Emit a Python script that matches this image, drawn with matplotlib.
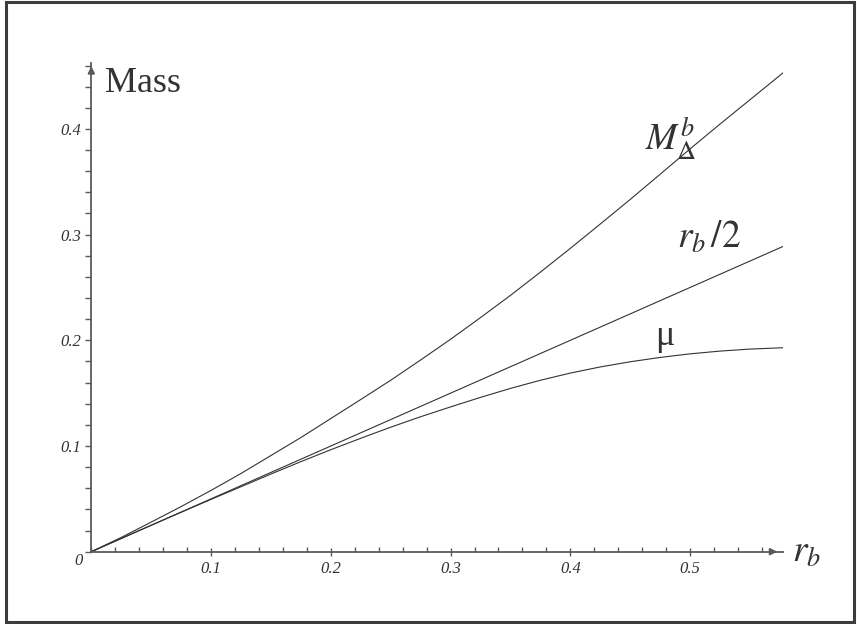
import matplotlib
matplotlib.use("Agg")
import matplotlib.pyplot as plt
from matplotlib.patches import Rectangle
from matplotlib.ticker import MultipleLocator

plt.rcParams['font.family'] = ['Liberation Serif', 'DejaVu Serif']
plt.rcParams['mathtext.fontset'] = 'stix'

# values
rb = [0, 0.025, 0.05, 0.075, 0.1, 0.125, 0.15, 0.175, 0.2, 0.225, 0.25,
      0.275, 0.3, 0.325, 0.35, 0.375, 0.4, 0.425, 0.45, 0.475, 0.5, 0.525,
      0.55, 0.578]
mass_delta = [0, 0.0135, 0.028, 0.0427, 0.058, 0.074, 0.091, 0.108, 0.126,
              0.144, 0.1622, 0.1814, 0.201, 0.2215, 0.2425, 0.2645, 0.287,
              0.31, 0.3333, 0.3571, 0.3811, 0.4046, 0.4276, 0.4534]
mu = [0, 0.0125, 0.025, 0.0373, 0.0495, 0.0615, 0.0735, 0.0852, 0.0965,
      0.1073, 0.1178, 0.1277, 0.137, 0.146, 0.1545, 0.1622, 0.169, 0.1748,
      0.1797, 0.1838, 0.1872, 0.1898, 0.1917, 0.193]
half_rb = [r / 2 for r in rb]

xticks = [0.1, 0.2, 0.3, 0.4, 0.5]
yticks = [0.1, 0.2, 0.3, 0.4]

ink = '#333333'
axis_grey = '#5a5a5a'

W, H = 857, 624
fig = plt.figure(figsize=(W / 100, H / 100), dpi=100)
left, right = 91.3, 783.0
bottom, top = 551.7, 63.4
ax = fig.add_axes([left / W, 1 - bottom / H, (right - left) / W, (bottom - top) / H])
ax.set_xlim(0, 0.5776)
ax.set_ylim(0, 0.462)

ax.plot(rb, mass_delta, color=ink, lw=0.8)
ax.plot(rb, half_rb, color=ink, lw=0.8)
ax.plot(rb, mu, color=ink, lw=0.8)

for s in ['top', 'right']:
    ax.spines[s].set_visible(False)
for s in ['left', 'bottom']:
    ax.spines[s].set_color(axis_grey)
    ax.spines[s].set_linewidth(1.3)

# axis arrows
ax.annotate('', xy=(0.5751, 0), xytext=(0.565, 0), xycoords='data',
            arrowprops=dict(arrowstyle='-|>', color=axis_grey, lw=1.3,
                            mutation_scale=10), annotation_clip=False)
ax.annotate('', xy=(0, 0.462), xytext=(0, 0.45), xycoords='data',
            arrowprops=dict(arrowstyle='-|>', color=axis_grey, lw=1.3,
                            mutation_scale=10), annotation_clip=False)

ax.set_xticks(xticks)
ax.set_xticklabels([str(t) for t in xticks])
ax.set_yticks(yticks)
ax.set_yticklabels([str(t) for t in yticks])
ax.xaxis.set_minor_locator(MultipleLocator(0.02))
ax.yaxis.set_minor_locator(MultipleLocator(0.02))
ax.tick_params(axis='x', which='major', direction='inout', length=6, width=1,
               color=axis_grey, pad=4, labelsize=12, labelcolor=ink)
ax.tick_params(axis='x', which='minor', direction='in', length=3.5, width=1,
               color=axis_grey)
ax.tick_params(axis='y', which='both', direction='out', length=4, width=1,
               color=axis_grey, pad=3, labelsize=12, labelcolor=ink)
for lab in ax.get_xticklabels() + ax.get_yticklabels():
    lab.set_fontstyle('italic')

ax.annotate('0', xy=(0, 0), xytext=(-13, -9), textcoords='offset pixels',
            ha='center', va='center', fontsize=12, style='italic', color=ink)

# labels
ax.text(0.0114, 0.4349, 'Mass', fontsize=26, color=ink, ha='left', va='baseline')
ax.text(0.585, -0.0095, r'$r_b$', fontsize=27, color=ink, ha='left',
        va='baseline', clip_on=False)
ax.text(0.4624, 0.3794, r'$M_{\mathrm{\Delta}}^{b}$', fontsize=27, color=ink,
        ha='left', va='baseline')
ax.text(0.489, 0.287, r'$r_b\,\mathit{/2}$', fontsize=27, color=ink, ha='left',
        va='baseline')
ax.text(0.4707, 0.1956, 'μ', fontsize=26, color=ink, ha='left', va='baseline')

# outer frame
fig.patches.append(Rectangle((6 / W, 2 / H), 848 / W, 620 / H,
                             transform=fig.transFigure, fill=False,
                             edgecolor='#3c3c3c', lw=2.2))

fig.savefig('out.png', dpi=100)
